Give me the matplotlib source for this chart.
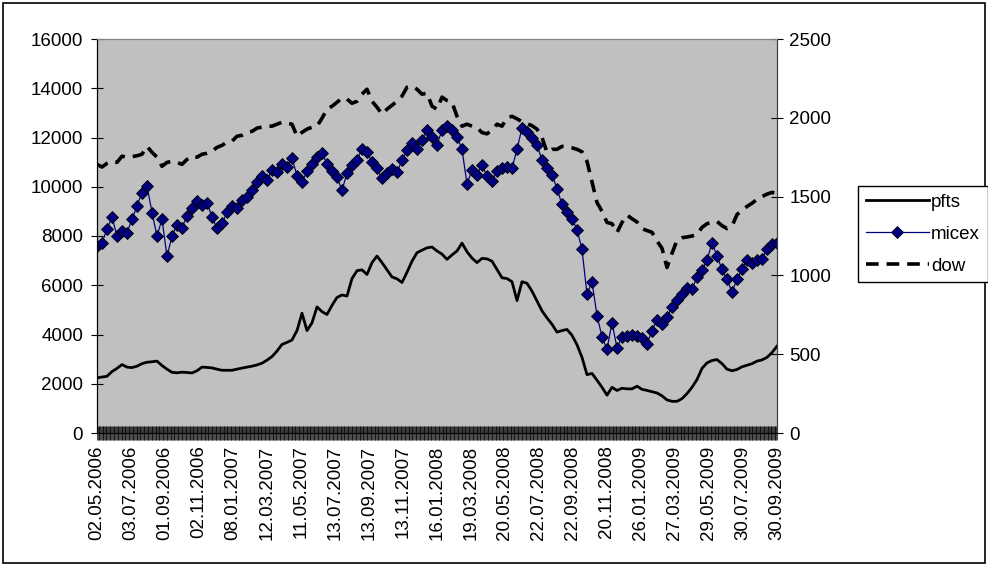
import numpy as np
import matplotlib
matplotlib.use("Agg")
import matplotlib.pyplot as plt
from matplotlib.patches import Rectangle

plt.rcParams['font.family'] = ['Liberation Sans', 'DejaVu Sans']

# trading-day category axis: 861 days, a date label every 43 days
n_days = 861
label_step = 43
date_labels = ['02.05.2006', '03.07.2006', '01.09.2006', '02.11.2006', '08.01.2007',
               '12.03.2007', '11.05.2007', '13.07.2007', '13.09.2007', '13.11.2007',
               '16.01.2008', '19.03.2008', '20.05.2008', '22.07.2008', '22.09.2008',
               '20.11.2008', '26.01.2009', '27.03.2009', '29.05.2009', '30.07.2009',
               '30.09.2009']

# readings taken at even steps across the whole period (137 per series)
dow = [10910, 10800, 10950, 11030, 10990, 11240, 11200, 11220, 11260, 11320,
       11640, 11400, 11200, 10830, 10990, 11030, 10990, 10910, 11110, 11240,
       11200, 11320, 11360, 11440, 11600, 11680, 11810, 11850, 12050, 12090,
       12210, 12250, 12380, 12420, 12460, 12460, 12540, 12620, 12580, 12540,
       12050, 12210, 12340, 12420, 12460, 12780, 13150, 13270, 13430, 13600,
       13560, 13390, 13470, 13760, 13960, 13470, 13230, 12950, 13150, 13310,
       13470, 13680, 14040, 14080, 13960, 13760, 13800, 13270, 13150, 13640,
       13500, 13430, 12860, 12460, 12540, 12460, 12400, 12200, 12150, 12300,
       12540, 12460, 12800, 12860, 12760, 12640, 12560, 12480, 12340, 12000,
       11400, 11520, 11520, 11640, 11620, 11580, 11520, 11420, 11030, 10200,
       9360, 9000, 8550, 8500, 8140, 8550, 8850, 8700, 8570, 8300,
       8220, 8150, 7800, 7500, 6720, 7300, 7820, 7930, 7960, 8000,
       8060, 8350, 8500, 8560, 8590, 8420, 8300, 8400, 8870, 9050,
       9200, 9330, 9490, 9600, 9700, 9770, 9720]

pfts = [350, 355, 360, 390, 410, 434, 418, 415, 424, 440,
        449, 452, 456, 428, 405, 385, 382, 386, 384, 381,
        395, 418, 416, 413, 405, 398, 398, 398, 405, 412,
        418, 424, 432, 443, 462, 485, 520, 562, 575, 590,
        650, 760, 650, 699, 800, 770, 752, 810, 860, 876,
        869, 980, 1030, 1035, 1006, 1081, 1123, 1081, 1035, 990,
        978, 955, 1020, 1090, 1144, 1160, 1175, 1180, 1155, 1135,
        1102, 1130, 1155, 1205, 1150, 1110, 1081, 1108, 1105, 1090,
        1038, 985, 980, 960, 840, 960, 950, 900, 837, 775,
        730, 690, 640, 650, 657, 620, 560, 480, 370, 378,
        335, 290, 240, 290, 270, 284, 280, 280, 297, 277,
        270, 262, 254, 236, 210, 201, 201, 218, 250, 290,
        339, 410, 445, 460, 466, 440, 405, 395, 403, 420,
        430, 440, 456, 464, 480, 510, 551]

micex = [1187, 1208, 1293, 1370, 1250, 1282, 1271, 1356, 1441, 1526,
         1568, 1399, 1250, 1356, 1120, 1250, 1320, 1300, 1380, 1430,
         1475, 1445, 1462, 1370, 1300, 1330, 1400, 1441, 1425, 1480,
         1500, 1540, 1595, 1632, 1605, 1670, 1655, 1710, 1690, 1745,
         1632, 1590, 1660, 1705, 1750, 1775, 1710, 1665, 1625, 1540,
         1650, 1700, 1735, 1800, 1785, 1720, 1680, 1615, 1650, 1672,
         1655, 1730, 1795, 1840, 1805, 1860, 1920, 1880, 1830, 1920,
         1950, 1920, 1880, 1800, 1580, 1670, 1640, 1700, 1630, 1600,
         1660, 1680, 1690, 1680, 1800, 1935, 1910, 1870, 1830, 1730,
         1680, 1640, 1550, 1450, 1405, 1360, 1290, 1165, 880, 960,
         745, 610, 530, 700, 540, 610, 615, 625, 615, 605,
         565, 650, 720, 690, 735, 800, 845, 885, 920, 912,
         990, 1035, 1095, 1208, 1123, 1038, 975, 895, 975, 1038,
         1100, 1081, 1100, 1105, 1165, 1200, 1208]

x_dow = np.linspace(0, n_days - 1, len(dow))
x_pfts = np.linspace(0, n_days - 1, len(pfts))
x_micex = np.linspace(0, n_days - 1, len(micex))

fig = plt.figure(figsize=(9.88, 5.66), dpi=100)
ax = fig.add_axes([97 / 988, 1 - 433 / 566, 680 / 988, 394 / 566])
ax.set_facecolor('#c0c0c0')
ax2 = ax.twinx()

# dow on the left scale, the two indices on the right one
ln_dow, = ax.plot(x_dow, dow, color='black', lw=2.6, ls=(0, (3.5, 2.2)), label='dow')
ln_pfts, = ax2.plot(x_pfts, pfts, color='black', lw=2.0, label='pfts')
ln_micex, = ax2.plot(x_micex, micex, color='#000080', lw=0.9, marker='D', ms=5.8,
                     mfc='#000080', mec='black', mew=0.6, label='micex')

ax.set_xlim(0, n_days - 1)
ax.set_ylim(0, 16000)
ax2.set_ylim(0, 2500)
ax.set_yticks(np.arange(0, 16001, 2000))
ax2.set_yticks(np.arange(0, 2501, 500))

ax.set_xticks(np.arange(0, n_days, label_step))
ax.set_xticklabels(date_labels, rotation=90)
ax.set_xticks(np.arange(n_days), minor=True)
ax.tick_params(axis='x', which='both', direction='inout', length=10, width=0.5,
               color='black', labelsize=13.5, pad=4)
ax.tick_params(axis='y', direction='inout', length=8, width=0.8, labelsize=13.5, pad=6)
ax2.tick_params(axis='y', direction='inout', length=8, width=0.8, labelsize=13.5, pad=5)

for a in (ax, ax2):
    a.spines['top'].set_color('#808080')
    a.spines['right'].set_color('#404040')
    a.spines['left'].set_color('black')
    a.spines['bottom'].set_color('black')

fig.legend(handles=[ln_pfts, ln_micex, ln_dow], loc='upper left',
           bbox_to_anchor=(858 / 988, 1 - 186 / 566), fontsize=13.5,
           frameon=True, fancybox=False, edgecolor='black', framealpha=1,
           handlelength=3.4, handletextpad=0.1, borderpad=0.4,
           labelspacing=0.8, borderaxespad=0, numpoints=1)

# outer chart border
fig.patches.append(Rectangle((3 / 988, 3 / 566), 982 / 988, 560 / 566,
                             transform=fig.transFigure, fill=False,
                             edgecolor='black', lw=1.2))

fig.savefig('out.png', dpi=100)
